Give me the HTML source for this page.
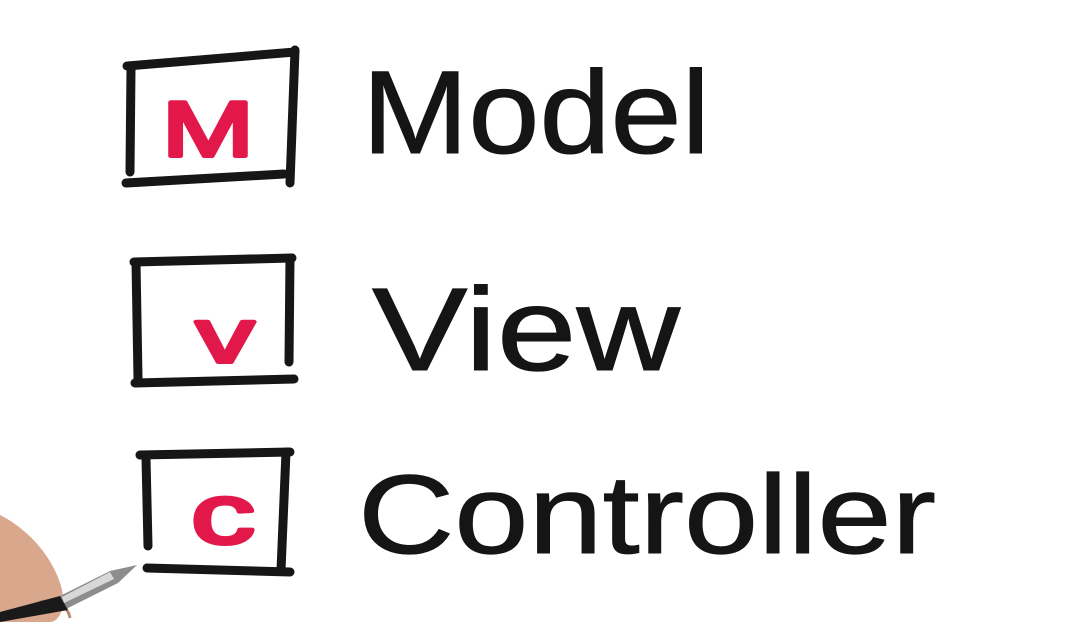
<!DOCTYPE html>
<html><head><meta charset="utf-8"><style>
html,body{margin:0;padding:0;background:#fff;}
svg{display:block;}
text{font-family:"Liberation Sans",sans-serif;}
</style></head><body>
<svg width="1078" height="622" viewBox="0 0 1078 622" xmlns="http://www.w3.org/2000/svg">
<rect width="1078" height="622" fill="#fff"/>
<g fill="none" stroke="#161616" stroke-width="9" stroke-linecap="round" stroke-linejoin="round">
<path d="M127 66 L295 52"/>
<path d="M131 68 L130 172"/>
<path d="M126 183 L284 174"/>
<path d="M295 50 L290 183"/>
<path d="M134 262 L292 258"/>
<path d="M136 262 L138 378"/>
<path d="M135 383 L294 379"/>
<path d="M290 258 L289 362"/>
<path d="M140 455 L290 452"/>
<path d="M146 458 L148 546"/>
<path d="M147 568 L290 572"/>
<path d="M286 452 L281 570"/>
</g>
<g fill="#e3184a" stroke="#e3184a" stroke-width="4" stroke-linejoin="round">
<text x="162" y="156" font-size="78" textLength="92" lengthAdjust="spacingAndGlyphs">M</text>
<text x="196" y="362" font-size="76" textLength="58" lengthAdjust="spacingAndGlyphs">v</text>
<text x="191" y="543" font-size="84" textLength="64" lengthAdjust="spacingAndGlyphs">c</text>
</g>
<g fill="#151515" stroke="#151515" stroke-width="1">
<text x="362" y="153" font-size="118" textLength="348" lengthAdjust="spacingAndGlyphs">Model</text>
<text x="372" y="370" font-size="118" textLength="308" lengthAdjust="spacingAndGlyphs">View</text>
<text x="358" y="553" font-size="112" textLength="578" lengthAdjust="spacingAndGlyphs">Controller</text>
</g>
<path d="M0 515 C30 530 55 560 62 590 C66 610 58 622 50 622 L0 622 Z" fill="#d9a88c"/>
<path d="M40 602 C55 598 68 606 70 618" fill="none" stroke="#b98a70" stroke-width="3"/>
<path d="M137 565 L110 571 L60 596 L66 609 L118 583 Z" fill="#8d8d8d"/>
<path d="M110 572 L62 597 L64 603 L114 579 Z" fill="#d8d8d8"/>
<path d="M60 596 L0 612 L0 622 L68 610 Z" fill="#1a1a1a"/>
</svg>
</body></html>
